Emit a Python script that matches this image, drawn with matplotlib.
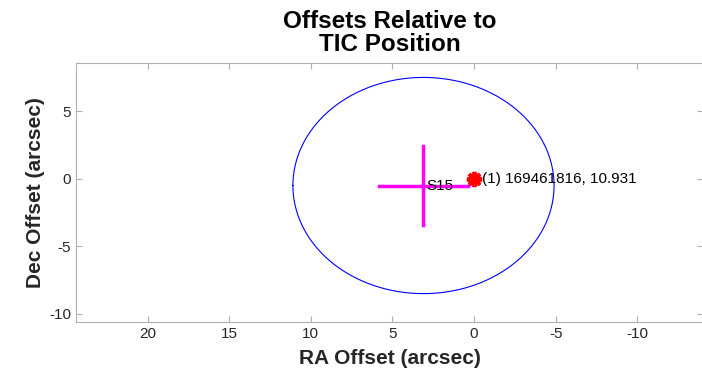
import matplotlib.pyplot as plt
import numpy as np

# offsets in arcsec
star_ra = [0.0]
star_dec = [0.0]
star_label = ['(1) 169461816, 10.931']

centroid_ra = 3.1
centroid_dec = -0.5
centroid_err_ra = 2.75
centroid_err_dec = 2.95
centroid_label = 'S15'
circle_radius = 8.0

ra_ticks = [20, 15, 10, 5, 0, -5, -10]
dec_ticks = [5, 0, -5, -10]

plt.rcParams['font.family'] = ['Liberation Sans', 'DejaVu Sans']
plt.rcParams['axes.unicode_minus'] = False

fig = plt.figure(figsize=(7.02, 3.76), dpi=100)
ax = fig.add_axes([0.108, 0.1436, 0.894, 0.690])

theta = np.linspace(0, 2 * np.pi, 400)
ax.plot(centroid_ra + circle_radius * np.cos(theta),
        centroid_dec + circle_radius * np.sin(theta),
        color='blue', lw=0.8)

ax.plot([centroid_ra - centroid_err_ra, centroid_ra + centroid_err_ra],
        [centroid_dec, centroid_dec], color='magenta', lw=2.5)
ax.plot([centroid_ra, centroid_ra],
        [centroid_dec - centroid_err_dec, centroid_dec + centroid_err_dec],
        color='magenta', lw=2.5)
ax.text(centroid_ra - 0.15, centroid_dec, centroid_label, fontsize=11,
        ha='left', va='center', color='black')

ax.plot(star_ra, star_dec, marker=(8, 2, 0), color='red', ms=11,
        mew=2.8, ls='none')
for ra, dec, lab in zip(star_ra, star_dec, star_label):
    ax.text(ra - 0.5, dec, lab, fontsize=11, ha='left', va='center')

ax.set_xlim(24.4, -14.05)
ax.set_ylim(-10.6, 8.6)
ax.set_xticks(ra_ticks)
ax.set_yticks(dec_ticks)

for s in ax.spines.values():
    s.set_color('#b0b0b0')
ax.tick_params(direction='in', length=4, color='#b0b0b0', labelcolor='#262626',
               labelsize=11, top=True, right=True)

ax.set_xlabel('RA Offset (arcsec)', fontsize=15, fontweight='bold', color='#262626',
              labelpad=6)
ax.set_ylabel('Dec Offset (arcsec)', fontsize=15, fontweight='bold', color='#262626',
              labelpad=3)
ax.set_title('Offsets Relative to\nTIC Position', fontsize=17.5, fontweight='bold',
             linespacing=1.05, pad=8)

fig.savefig('out.png', dpi=100)
